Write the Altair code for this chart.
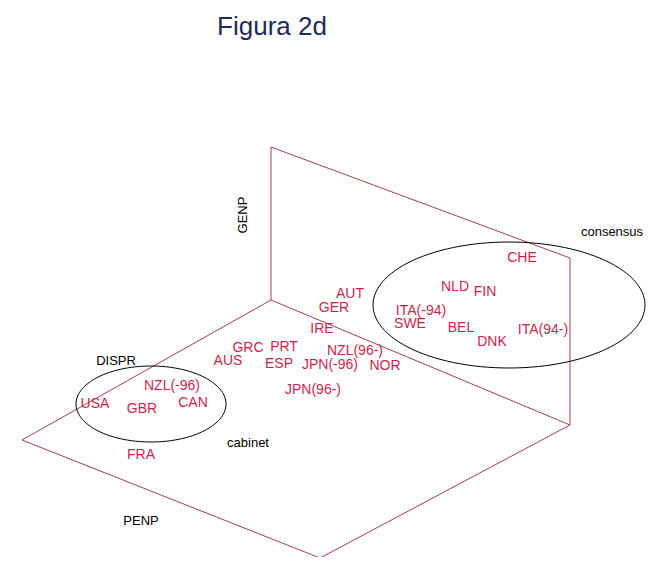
import altair as alt
import pandas as pd
import numpy as np

# red country labels (projected positions)
countries = ["CHE","NLD","FIN","ITA(-94)","SWE","BEL","DNK","ITA(94-)","AUT","GER","IRE",
             "GRC","PRT","AUS","ESP","NZL(96-)","JPN(-96)","NOR","JPN(96-)","NZL(-96)","CAN",
             "USA","GBR","FRA"]
cx = [522,455,485,421,410,461,492,543,350,334,322,248,284,228,279,355,330,385,313,172,193,95,142,141]
cy = [258,287,292,311,324,328,342,330,294,308,329,348,347,361,364,351,365,366,390,386,403,404,409,455]

# black annotation labels
notes = ["DISPR","cabinet","PENP","consensus"]
nx = [116,248,141,612]
ny = [361,443,521,232]

# frame segments (planes)
sx1 = [271,271,570,271,271,570,22]
sy1 = [147,147,258,300,300,425,440]
sx2 = [271,570,570,570,22,320,320]
sy2 = [300,258,425,425,440,558,558]

# ellipses: center x, center y, radius x, radius y
ecx = [151,509]; ecy = [404,305]; erx = [75,136]; ery = [38,63]

XS = alt.Scale(domain=[8,652]); YS = alt.Scale(domain=[557,8])
def X(f): return alt.X(f, type="quantitative", scale=XS, axis=None)
def Y(f): return alt.Y(f, type="quantitative", scale=YS, axis=None)

seg = pd.DataFrame({"x":sx1,"y":sy1,"x2":sx2,"y2":sy2})
rules = alt.Chart(seg).mark_rule(color="#A0404A", strokeWidth=1).encode(
    x=X("x"), y=Y("y"), x2="x2", y2="y2")

rows = []
t = np.linspace(0, 2*np.pi, 121)
for i in range(2):
    for k, a in enumerate(t):
        rows.append({"e": i, "k": k, "x": ecx[i]+erx[i]*np.cos(a), "y": ecy[i]+ery[i]*np.sin(a)})
ell = alt.Chart(pd.DataFrame(rows)).mark_line(color="black", strokeWidth=1).encode(
    x=X("x"), y=Y("y"), detail="e:N", order="k:Q")

cdf = pd.DataFrame({"t":countries,"x":cx,"y":cy})
ctext = alt.Chart(cdf).mark_text(color="#CC1F4E", font="Liberation Sans", fontSize=14).encode(
    x=X("x"), y=Y("y"), text="t")

ndf = pd.DataFrame({"t":notes,"x":nx,"y":ny})
ntext = alt.Chart(ndf).mark_text(color="black", font="Liberation Sans", fontSize=13).encode(
    x=X("x"), y=Y("y"), text="t")

gdf = pd.DataFrame({"t":["GENP"],"x":[243],"y":[215]})
gtext = alt.Chart(gdf).mark_text(color="black", font="Liberation Sans", fontSize=13, angle=270).encode(
    x=X("x"), y=Y("y"), text="t")

tdf = pd.DataFrame({"t":["Figura 2d"],"x":[272],"y":[27]})
ttext = alt.Chart(tdf).mark_text(color="#1F2A5C", font="Liberation Sans", fontSize=26).encode(
    x=X("x"), y=Y("y"), text="t")

chart = alt.layer(rules, ell, ctext, ntext, gtext, ttext).properties(
    width=644, height=549, autosize=alt.AutoSizeParams(type="none"), padding=0,
    background="white").configure_view(strokeWidth=0)

chart.save("out.html", embed_options={"renderer": "svg", "actions": False})
